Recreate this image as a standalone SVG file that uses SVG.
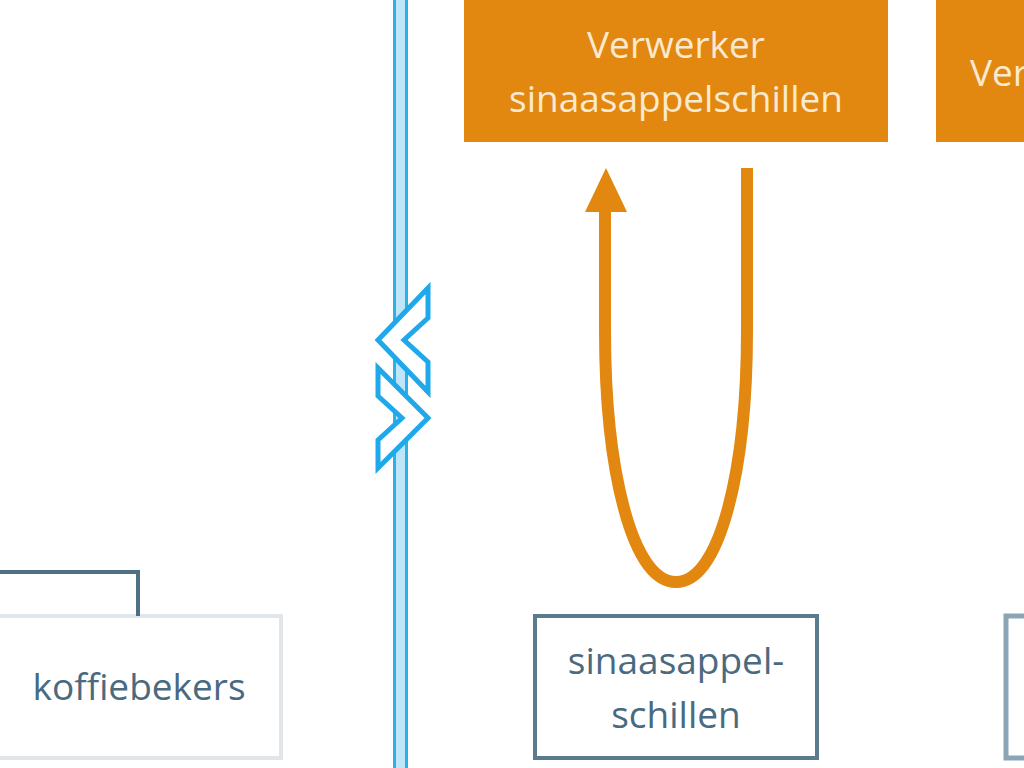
<svg xmlns="http://www.w3.org/2000/svg" width="1024" height="768" viewBox="0 0 1024 768">
<style>
.org{fill:#e2870f}
.ot{fill:#fbe9d0;font-family:"Open Sans",sans-serif;font-size:37px;text-anchor:middle}
.bt{fill:#4a6a80;font-family:"Open Sans",sans-serif;font-size:37px;text-anchor:middle}
</style>
<rect width="1024" height="768" fill="#fff"/>
<g id="divider">
<rect x="394" y="0" width="14" height="768" fill="#bfe6f8"/>
<line x1="394.5" y1="0" x2="394.5" y2="768" stroke="#2bb0ea" stroke-width="3"/>
<line x1="406.5" y1="0" x2="406.5" y2="768" stroke="#2bb0ea" stroke-width="3"/>
<polygon points="428,288 428,318 404,340 428,362 428,392 378,340" fill="#fff" stroke="#1fa9ea" stroke-width="5"/>
<polygon points="378,368 428,418 378,468 378,440 402,418 378,396" fill="#fff" stroke="#1fa9ea" stroke-width="5"/>
</g>
<g id="n1"><rect x="464" y="0" width="424" height="142" class="org"/><text class="ot" x="676" y="58">Verwerker</text><text class="ot" x="676" y="112">sinaasappelschillen</text></g>
<g id="n2"><rect x="936" y="0" width="100" height="142" class="org"/><text class="ot" x="970" y="86" style="text-anchor:start">Ver</text></g>
<g id="n3"><rect x="535" y="616" width="282" height="142" fill="#fff" stroke="#5b7a8e" stroke-width="4"/><text class="bt" x="676" y="674">sinaasappel-</text><text class="bt" x="676" y="728">schillen</text></g>
<g id="n4"><rect x="1006" y="616" width="40" height="142" fill="#fff" stroke="#8aa6b6" stroke-width="5"/></g>
<g id="n5"><rect x="-5" y="616" width="286" height="142" fill="#fff" stroke="#e0e6ea" stroke-width="4"/><text class="bt" x="139" y="700">koffiebekers</text></g>
<g id="connectors">
<polyline points="0,572 138,572 138,616" fill="none" stroke="#4f6f84" stroke-width="4"/>
<path d="M747,168 L747,330 C747,470 720,582 676,582 C632,582 605,470 605,330 L605,210" fill="none" stroke="#e2870f" stroke-width="12"/>
<polygon points="585,212 606,168 627,212" fill="#e2870f"/>
</g>
</svg>
